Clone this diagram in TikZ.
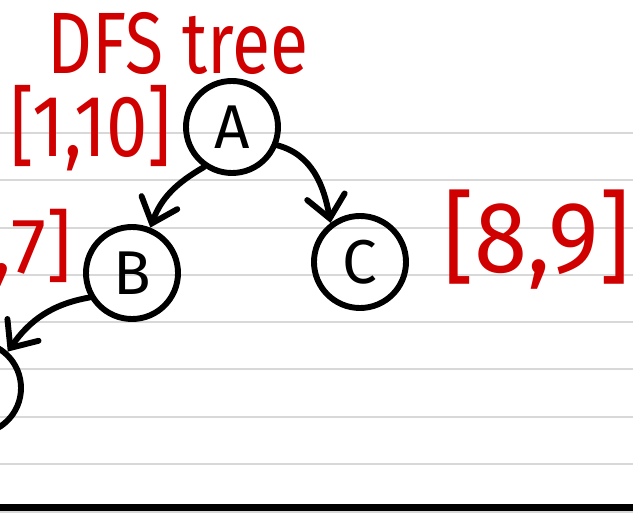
\documentclass[tikz,border=0pt]{standalone}
\usepackage{fontspec}
\setmainfont{Fira Sans}
\usetikzlibrary{arrows.meta, positioning, calc}
\definecolor{inkred}{RGB}{208,0,0}
\definecolor{ruled}{RGB}{216,216,216}
\tikzset{
  ruleline/.style={
    color = ruled,
    line width = 1.4pt
  },
  baseline/.style={
    color = black,
    line width = 5pt
  },
  treenode/.style={
    circle,
    draw,
    line width = 4.2pt,
    minimum size = 2.3cm,
    inner sep = 0,
    font = \fontsize{44}{44}\selectfont
  },
  treeedge/.style={
    line width = 4.2pt,
    line cap = round,
    arrows = {-Straight Barb[length=0.55cm, width=0.95cm, line cap=round]}
  },
  redlabel/.style={
    text = inkred,
    inner sep = 0
  }
}

\begin{document}
\begin{tikzpicture}[x=0.025cm, y=0.025cm]
    \useasboundingbox (0,0) rectangle (633,513);
    \clip (0,0) rectangle (633,513);
    \fill[white] (0,0) rectangle (633,513);
    \foreach \y in {1, 49, 96, 144, 191, 238, 285, 333, 380}
      \draw[ruleline] (0,\y) -- (633,\y);
    \draw[baseline] (0,5.5) -- (633,5.5);

    \coordinate (acentre) at (232,386);
    \coordinate (bcentre) at (132,240);
    \coordinate (ccentre) at (360,251);
    \coordinate (dcentre) at (-25,125);

    \node (A) at (acentre)[treenode]{A};
    \node (B) at (bcentre)[treenode]{B};
    \node (C) at (ccentre)[treenode]{C};
    \node (D) at (dcentre)[treenode]{};

    \draw[treeedge] (A.235) to[out=210, in=70] (B.68);
    \draw[treeedge] (A.-22) to[out=-15, in=100] (C.127);
    \draw[treeedge] (B.210) to[out=190, in=55] (D.48);

    \node (title) at (178,470)[redlabel, font=\fontsize{62}{62}\selectfont]{\scalebox{0.8}[1]{DFS tree}};
    \node (atime) at (91,385)[redlabel, font=\fontsize{62}{62}\selectfont]{\scalebox{0.85}[1]{[1,10]}};
    \node (btime) at (72,265)[redlabel, anchor=east, font=\fontsize{56}{56}\selectfont]{[2,7]};
    \node (ctime) at (537,273)[redlabel, font=\fontsize{72}{72}\selectfont]{\scalebox{0.95}[1]{[8,9]}};
\end{tikzpicture}
\end{document}
